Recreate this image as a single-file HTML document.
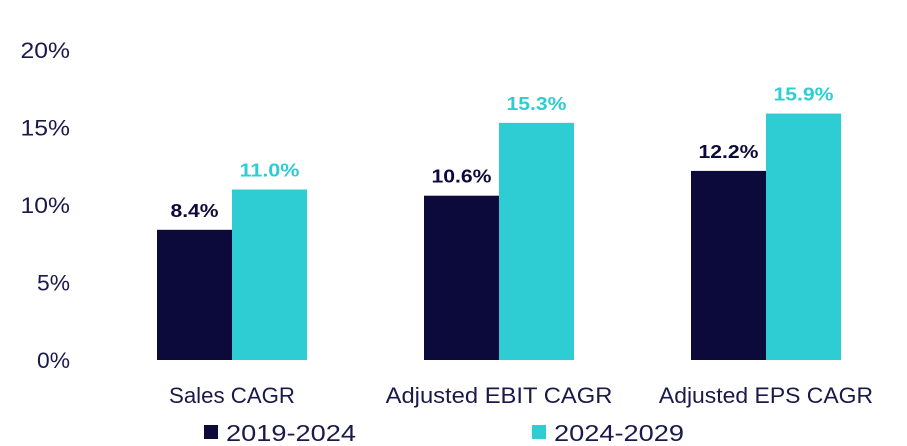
<!DOCTYPE html>
<html><head><meta charset="utf-8"><style>
body{margin:0;background:#fff;width:907px;height:446px;overflow:hidden}
svg{display:block;font-family:"Liberation Sans",sans-serif}
</style></head><body>
<svg id="chart" width="907" height="446"></svg>
<script>
const categories=["Sales CAGR","Adjusted EBIT CAGR","Adjusted EPS CAGR"];
const series1=[8.4,10.6,12.2];
const series2=[11.0,15.3,15.9];
const seriesNames=["2019-2024","2024-2029"];
const yTicks=[0,5,10,15,20];
const colors=["#0c0a3a","#2ecdd3"];
const svg=document.getElementById('chart');
const NS="http://www.w3.org/2000/svg";
const y=v=>360-v*15.5;
const cx=i=>232+i*267;
const bw=75;
function mk(tag,attrs,text){const e=document.createElementNS(NS,tag);for(const k in attrs)e.setAttribute(k,attrs[k]);if(text!==undefined)e.textContent=text;svg.appendChild(e);return e;}
yTicks.forEach(t=>{
  const s=t+'%';
  const e=mk('text',{x:70,y:y(t)+8,'text-anchor':'end','font-size':22,fill:'#1a1a4a',textLength:s.length*16.5,lengthAdjust:'spacingAndGlyphs'},s);
  
  
});
categories.forEach((c,i)=>{
  [series1,series2].forEach((s,j)=>{
    const x=cx(i)+(j?0:-bw);
    const r=mk('rect',{x:x,y:y(s[i]),width:bw,height:360-y(s[i]),fill:colors[j]});
    
    
    const str=s[i].toFixed(1)+'%';
    const t=mk('text',{x:x+bw/2,y:y(s[i])-13,'text-anchor':'middle','font-size':18,'font-weight':'bold',fill:j?'#2ecdd3':'#0c0a3a',textLength:str.length*12,lengthAdjust:'spacingAndGlyphs'},str);
    
    
  });
  const l=mk('text',{x:cx(i),y:403,'text-anchor':'middle','font-size':22,fill:'#1a1a4a',textLength:c.length*12.6,lengthAdjust:'spacingAndGlyphs'},c);
  
  
});
const lx=[204,532];
seriesNames.forEach((n,j)=>{
  const r=mk('rect',{x:lx[j],y:425,width:14,height:14,fill:colors[j]});
  
  
  const t=mk('text',{x:lx[j]+22,y:441,'font-size':23,fill:'#1a1a4a',textLength:130,lengthAdjust:'spacingAndGlyphs'},n);
  
  
});
</script>
</body></html>
